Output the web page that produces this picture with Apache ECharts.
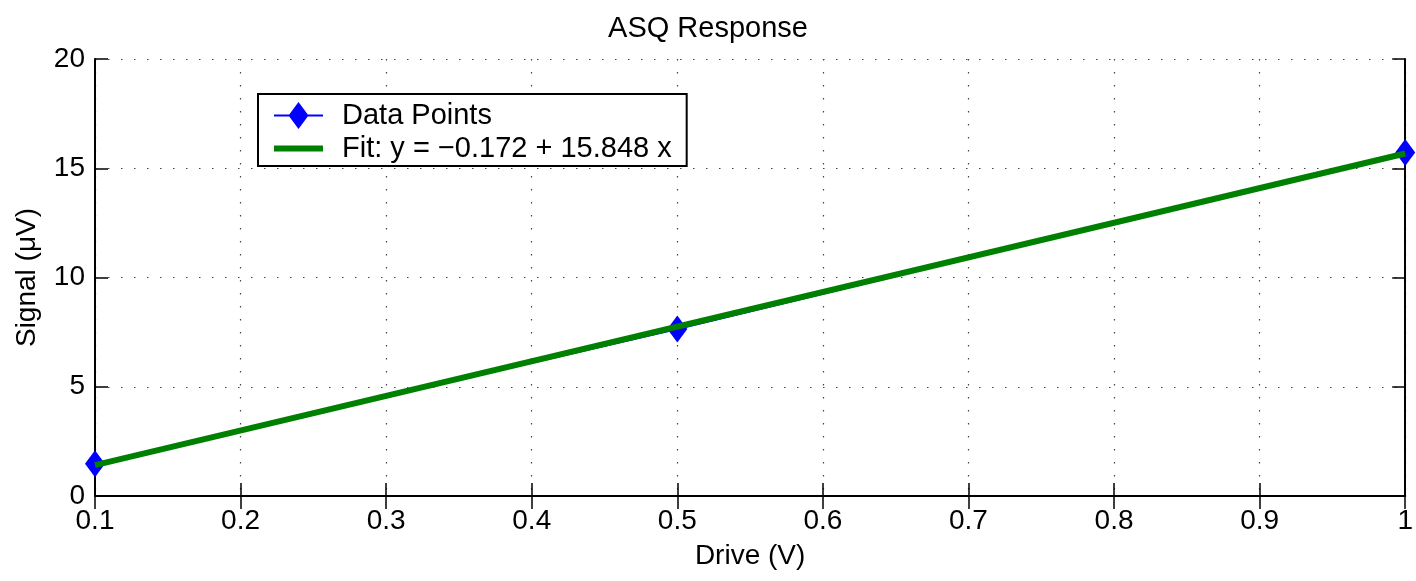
<!DOCTYPE html>
<html><head><meta charset="utf-8">
<script src="https://cdn.jsdelivr.net/npm/echarts@6/dist/echarts.min.js"></script>
<style>html,body{margin:0;padding:0;background:#fff}#c{width:1416px;height:581px}</style>
</head><body><div id="c"></div>
<script>
const driveV = [0.1, 0.5, 1.0];
const signalUV = [1.48, 7.64, 15.72];
const fitX = [0.1, 1.0];
const fitY = [1.413, 15.676];
const xTicks = [0.1, 0.2, 0.3, 0.4, 0.5, 0.6, 0.7, 0.8, 0.9, 1];
const yTicks = [0, 5, 10, 15, 20];

const FONT = 'Liberation Sans';
const chart = echarts.init(document.getElementById('c'));
const gridDash = {color: '#444', type: [1.5, 11.5], width: 1.2};
const dataIcon = 'path://M0,12.5L49,12.5L49,14.5L0,14.5Z M24.5,0L34.5,13.5L24.5,27L14.5,13.5Z';
const fitIcon = 'path://M0,0L49,0L49,6L0,6Z';
chart.setOption({
  animation: false,
  textStyle: {fontFamily: FONT, color: '#000'},
  title: {text: 'ASQ Response', left: 'center', top: 9,
    textStyle: {fontFamily: FONT, fontSize: 29, fontWeight: 'normal', color: '#000'}},
  legend: {
    orient: 'vertical', left: 258, top: 94,
    padding: [7, 15, 3, 16], itemGap: 4, itemWidth: 49, itemHeight: 27,
    borderColor: '#000', borderWidth: 2, backgroundColor: '#fff',
    textStyle: {fontFamily: FONT, fontSize: 29, color: '#000', padding: [0, 0, 0, 14]},
    data: [
      {name: 'Data Points', icon: dataIcon, itemStyle: {color: '#0000ff'}},
      {name: 'Fit: y = \u22120.172 + 15.848 x', icon: fitIcon, itemStyle: {color: '#008000'}}
    ]
  },
  grid: {left: 95, right: 8, top: 59, bottom: 85},
  xAxis: [{
    type: 'value', min: xTicks[0], max: xTicks[xTicks.length-1], interval: 0.1,
    name: 'Drive (V)', nameLocation: 'middle', nameGap: 46,
    nameTextStyle: {fontFamily: FONT, fontSize: 28, color: '#000'},
    axisLine: {show: true, lineStyle: {color: '#000', width: 2}},
    axisTick: {show: true, inside: true, length: 13, lineStyle: {color: '#000', width: 1.5}},
    axisLabel: {fontFamily: FONT, fontSize: 28, color: '#000', margin: 11,
      formatter: v => { const t = xTicks.find(k => Math.abs(k - v) < 1e-9); return t === undefined ? '' : String(t); }},
    splitLine: {show: true, lineStyle: gridDash}
  }, {
    type: 'value', position: 'top', min: xTicks[0], max: xTicks[xTicks.length-1], interval: 0.1,
    axisLine: {show: true, lineStyle: {color: '#000', width: 2}},
    axisTick: {show: true, inside: true, length: 13, lineStyle: {color: '#000', width: 1.5}},
    axisLabel: {show: false}, splitLine: {show: false}
  }],
  yAxis: [{
    type: 'value', min: yTicks[0], max: yTicks[yTicks.length-1], interval: 5,
    name: 'Signal (\u03bcV)', nameLocation: 'middle', nameGap: 54,
    nameTextStyle: {fontFamily: FONT, fontSize: 28, color: '#000'},
    axisLine: {show: true, lineStyle: {color: '#000', width: 2}},
    axisTick: {show: true, inside: true, length: 13, lineStyle: {color: '#000', width: 1.5}},
    axisLabel: {fontFamily: FONT, fontSize: 28, color: '#000', margin: 10},
    splitLine: {show: true, lineStyle: gridDash}
  }, {
    type: 'value', position: 'right', min: yTicks[0], max: yTicks[yTicks.length-1], interval: 5,
    axisLine: {show: true, lineStyle: {color: '#000', width: 2}},
    axisTick: {show: true, inside: true, length: 13, lineStyle: {color: '#000', width: 1.5}},
    axisLabel: {show: false}, splitLine: {show: false}
  }],
  series: [{
    name: 'Data Points', type: 'line', clip: false,
    data: driveV.map((x, i) => [x, signalUV[i]]),
    symbol: 'diamond', symbolSize: [20, 27], showAllSymbol: true,
    lineStyle: {color: '#0000ff', width: 2},
    itemStyle: {color: '#0000ff'}, z: 2
  }, {
    name: 'Fit: y = \u22120.172 + 15.848 x', type: 'line', clip: false,
    data: fitX.map((x, i) => [x, fitY[i]]),
    symbol: 'none', lineStyle: {color: '#008000', width: 6},
    itemStyle: {color: '#008000'}, z: 3
  }]
});
</script></body></html>
